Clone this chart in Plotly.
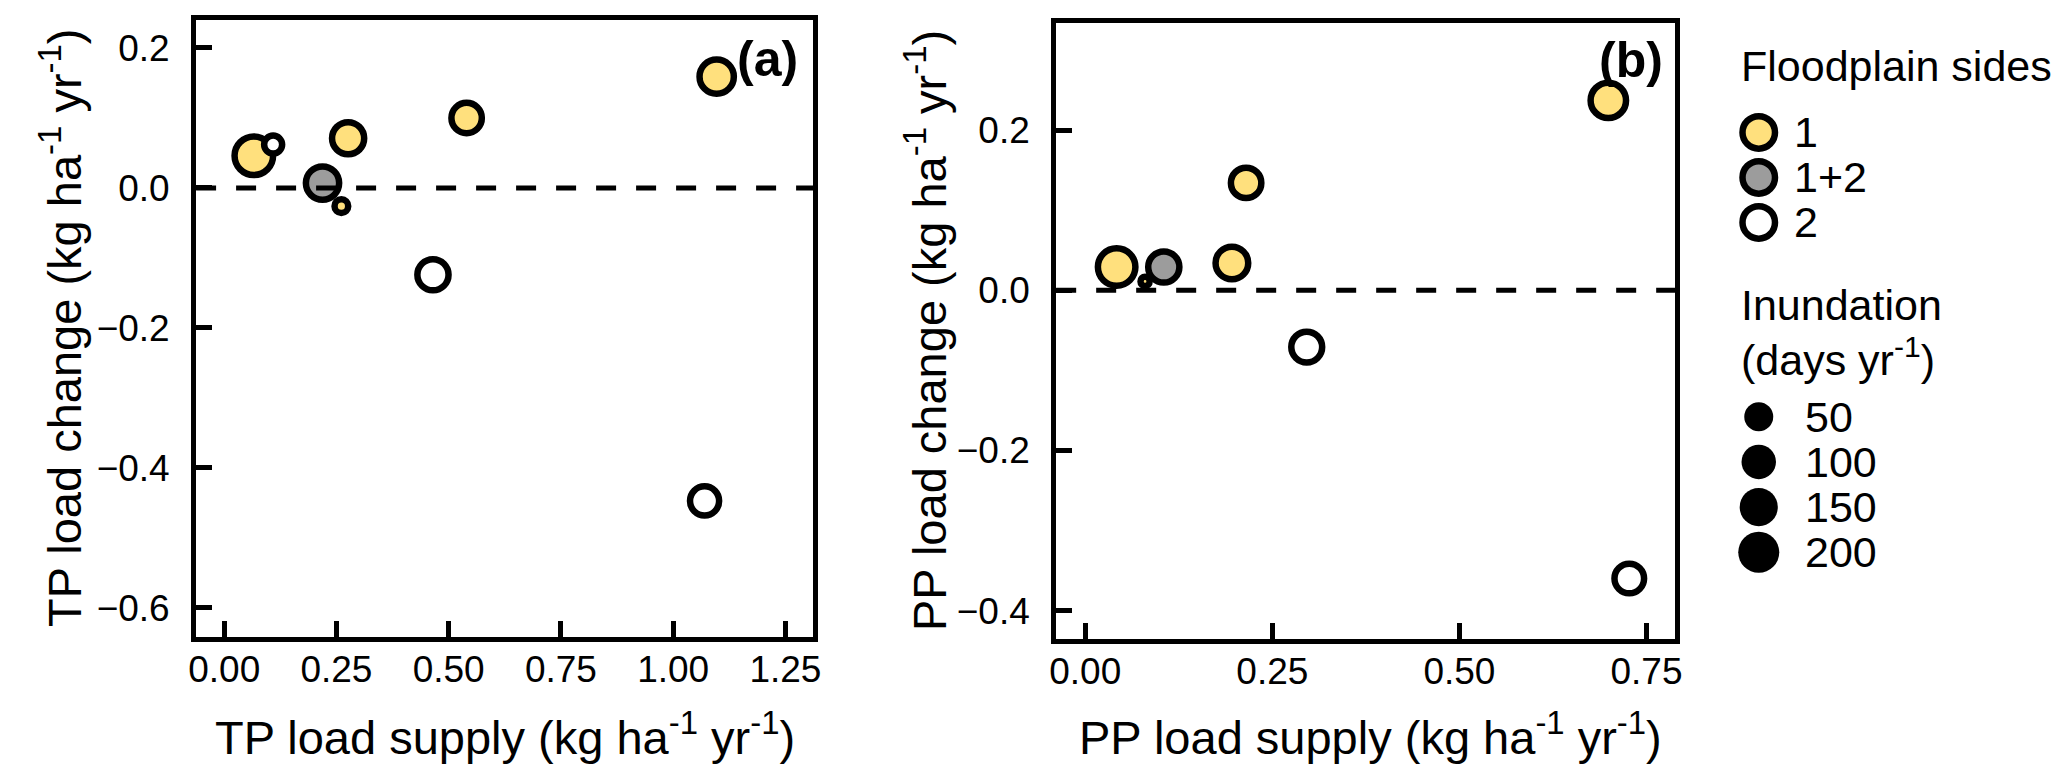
import numpy as np
import plotly.graph_objects as go

# ______________________________________________________________________________
# DATA
# ______________________________________________________________________________

# panel (a): total phosphorus
tp_supply = [0.066, 0.109, 0.219, 0.261, 0.276, 0.540, 0.465, 1.097, 1.070]
tp_change = [0.046, 0.062, 0.007, -0.026, 0.071, 0.100, -0.124, 0.159, -0.447]
tp_sides = ['1', '2', '1+2', '1', '1', '1', '2', '1', '2']
tp_inundation = [126, 6, 70, 2, 61, 49, 54, 79, 41]

# panel (b): particulate phosphorus
pp_supply = [0.042, 0.080, 0.105, 0.196, 0.215, 0.296, 0.699, 0.727]
pp_change = [0.029, 0.011, 0.029, 0.034, 0.134, -0.071, 0.237, -0.360]
pp_sides = ['1', '1', '1+2', '1', '1', '2', '1', '2']
pp_inundation = [113, 0.4, 54, 65, 49, 52, 90, 44]

side_levels = ['1', '1+2', '2']
inundation_breaks = [50, 100, 150, 200]

tp_xticks = [0, 0.25, 0.5, 0.75, 1.0, 1.25]
tp_yticks = [-0.6, -0.4, -0.2, 0.0, 0.2]
pp_xticks = [0, 0.25, 0.5, 0.75]
pp_yticks = [-0.4, -0.2, 0.0, 0.2]

# ______________________________________________________________________________
# STYLE
# ______________________________________________________________________________

FONT = 'Arial, Liberation Sans, Helvetica, sans-serif'
fill_colours = {'1': '#FFE07D', '1+2': '#9C9C9C', '2': '#FFFFFF'}
RING = 6.5
W, H = 2067, 770


def size_px(days):
    # marker diameter for a number of inundation days
    return 11.5 * np.power(np.asarray(days, dtype=float), 0.25)


def scatter_trace(x, y, sides, days, xa, ya):
    x, y, days = np.asarray(x), np.asarray(y), np.asarray(days, dtype=float)
    order = np.argsort(-days)  # big ones first, small ones drawn on top
    return go.Scatter(
        x=x[order], y=y[order], mode='markers', xaxis=xa, yaxis=ya,
        marker=dict(size=size_px(days[order]),
                    color=[fill_colours[sides[i]] for i in order],
                    line=dict(color='black', width=RING), opacity=1),
        showlegend=False, hoverinfo='x+y')


fig = go.Figure()
fig.add_trace(scatter_trace(tp_supply, tp_change, tp_sides, tp_inundation, 'x', 'y'))
fig.add_trace(scatter_trace(pp_supply, pp_change, pp_sides, pp_inundation, 'x2', 'y2'))

# ______________________________________________________________________________
# LEGEND (drawn on a hidden axis, y counted in pixels from the top)
# ______________________________________________________________________________

key_x = 0.15
side_rows = 124.4 + 45 * np.arange(len(side_levels))
size_rows = 408.7 + 45.2 * np.arange(len(inundation_breaks))

fig.add_trace(go.Scatter(
    x=[key_x] * len(side_levels), y=side_rows, mode='markers', xaxis='x3', yaxis='y3',
    marker=dict(size=32.5, color=[fill_colours[s] for s in side_levels], opacity=1,
                line=dict(color='black', width=6.5)),
    showlegend=False, hoverinfo='skip'))
fig.add_trace(go.Scatter(
    x=[key_x] * len(inundation_breaks), y=size_rows, mode='markers', xaxis='x3', yaxis='y3',
    marker=dict(size=size_px(inundation_breaks) * 10.9 / 11.5, color='black', opacity=1,
                line=dict(width=0)),
    showlegend=False, hoverinfo='skip'))

annotations = []


def legend_text(text, x, y, size):
    annotations.append(dict(text=text, x=x, y=y, xref='x3', yref='y3', xanchor='left',
                            yanchor='middle', showarrow=False,
                            font=dict(family=FONT, size=size, color='black')))


legend_text('Floodplain sides', 0.097, 58, 43)
for lab, row in zip(side_levels, side_rows):
    legend_text(lab, 0.24, row, 43)
legend_text('Inundation', 0.097, 297, 43)
legend_text('(days yr<sup>-1</sup>)', 0.097, 349, 43)
for b, row in zip(inundation_breaks, size_rows):
    legend_text(str(b), 0.268, row, 43)

for lab, xr, yr, px, py in [('(a)', 'x domain', 'y domain', 0.978, 0.985),
                            ('(b)', 'x2 domain', 'y2 domain', 0.983, 0.988)]:
    annotations.append(dict(text='<b>%s</b>' % lab, x=px, y=py, xref=xr, yref=yr,
                            xanchor='right', yanchor='top', showarrow=False,
                            font=dict(family=FONT, size=50, color='black')))

# axis titles
unit = ' (kg ha<sup>-1</sup> yr<sup>-1</sup>)'
title_font = dict(family=FONT, size=47, color='black')
for text, xc in [('TP load supply' + unit, 497), ('PP load supply' + unit, 1362)]:
    annotations.append(dict(text=text, x=xc / W, y=1 - 726 / H, xref='paper', yref='paper',
                            xanchor='center', yanchor='middle', showarrow=False,
                            font=title_font))
for text, xc, yc in [('TP load change' + unit, 53, 320), ('PP load change' + unit, 918, 323)]:
    annotations.append(dict(text=text, x=xc / W, y=1 - yc / H, xref='paper', yref='paper',
                            xanchor='center', yanchor='middle', showarrow=False,
                            textangle=-90, font=title_font))

# ______________________________________________________________________________
# AXES
# ______________________________________________________________________________


def axis(rng, ticks, fmt, domain, anchor, standoff):
    return dict(range=rng, domain=domain, anchor=anchor, tickvals=ticks, tickformat=fmt,
                ticks='inside', ticklen=16, tickwidth=5, tickcolor='black',
                showline=True, linewidth=5, linecolor='black', mirror=True,
                showgrid=False, zeroline=False, automargin=False,
                ticklabelstandoff=standoff,
                tickfont=dict(family=FONT, size=37, color='black'))


fig.update_layout(
    xaxis=axis([-0.0626, 1.3122], tp_xticks, '.2f', [0.0910, 0.3896], 'y', -5),
    yaxis=axis([-0.6419, 0.2404], tp_yticks, '.1f', [0.1827, 0.9848], 'x', 14),
    xaxis2=axis([-0.0388, 0.7887], pp_xticks, '.2f', [0.5071, 0.8067], 'y2', -5),
    yaxis2=axis([-0.436, 0.334], pp_yticks, '.1f', [0.1800, 0.9809], 'x2', 14),
    xaxis3=dict(domain=[0.82, 1.0], range=[0, 1], visible=False, anchor='y3'),
    yaxis3=dict(domain=[0, 1], range=[H, 0], visible=False, anchor='x3'),
    annotations=annotations,
    shapes=[dict(type='line', xref=xr, yref=yr, x0=0, x1=1, y0=0, y1=0, layer='above',
                 line=dict(color='black', width=5, dash='20px,20px'))
            for xr, yr in [('x domain', 'y'), ('x2 domain', 'y2')]],
    width=W, height=H,
    margin=dict(l=0, r=0, t=0, b=0),
    paper_bgcolor='white', plot_bgcolor='white',
    font=dict(family=FONT, size=37, color='black'),
)

fig.write_html('out.html')
